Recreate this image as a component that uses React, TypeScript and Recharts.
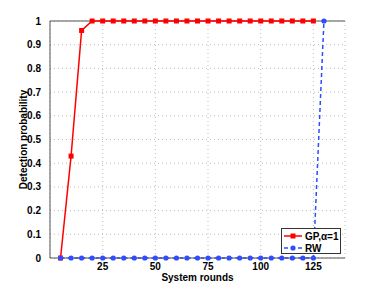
import {
  LineChart,
  Line,
  XAxis,
  YAxis,
  CartesianGrid,
  ReferenceLine,
} from 'recharts';

const rounds = [5, 10, 15, 20, 25, 30, 35, 40, 45, 50, 55, 60, 65, 70, 75, 80, 85, 90, 95, 100, 105, 110, 115, 120, 125, 130];
const gpValues = [0, 0.43, 0.96, 1, 1, 1, 1, 1, 1, 1, 1, 1, 1, 1, 1, 1, 1, 1, 1, 1, 1, 1, 1, 1, 1, null];
const rwValues = [0, 0, 0, 0, 0, 0, 0, 0, 0, 0, 0, 0, 0, 0, 0, 0, 0, 0, 0, 0, 0, 0, 0, 0, 0, 1];
const xTicks = [25, 50, 75, 100, 125];
const yTicks = [0, 0.1, 0.2, 0.3, 0.4, 0.5, 0.6, 0.7, 0.8, 0.9, 1];

const RED = '#ff0000';
const BLUE = '#2f4cff';
const FONT = '"Liberation Sans", Arial, sans-serif';

const data = rounds.map((r, i) => ({ r, gp: gpValues[i], rw: rwValues[i] }));

const labelStyle = { fill: '#000', fontSize: 10, fontWeight: 'bold' as const, fontFamily: FONT };

const SquareDot = (props: any) => {
  const { cx, cy } = props;
  if (cx == null || cy == null) return null;
  return <rect x={cx - 2.5} y={cy - 2.5} width={5} height={5} fill={RED} />;
};

const CircleDot = (props: any) => {
  const { cx, cy } = props;
  if (cx == null || cy == null) return null;
  return <circle cx={cx} cy={cy} r={2.6} fill={BLUE} />;
};

const XLabel = (props: any) => {
  const { x, y, width } = props.viewBox;
  return (
    <text x={x + width / 2} y={y + 23} textAnchor="middle" {...labelStyle}>
      System rounds
    </text>
  );
};

const YLabel = (props: any) => {
  const { y, height } = props.viewBox;
  const cx = 27;
  const cy = y + height / 2;
  return (
    <text x={cx} y={cy} textAnchor="middle" transform={`rotate(-90 ${cx} ${cy})`} {...labelStyle}>
      Detection probability
    </text>
  );
};

// legend drawn as an overlay box in the lower right corner of the axes
const LegendBox = () => (
  <div
    style={{
      position: 'absolute',
      left: 281,
      top: 228,
      width: 60,
      height: 26,
      border: '1px solid #333',
      background: '#fff',
      fontFamily: FONT,
      fontWeight: 'bold',
      fontSize: 10,
      color: '#000',
      paddingTop: 1,
      boxSizing: 'border-box',
    }}
  >
    <div style={{ display: 'flex', alignItems: 'center', height: 12 }}>
      <svg width={23} height={10} style={{ flex: 'none' }}>
        <line x1={2} y1={5} x2={20} y2={5} stroke={RED} strokeWidth={1.5} />
        <rect x={8.5} y={2.5} width={5} height={5} fill={RED} />
      </svg>
      <span style={{ whiteSpace: 'nowrap' }}>GP,α=1</span>
    </div>
    <div style={{ display: 'flex', alignItems: 'center', height: 12 }}>
      <svg width={23} height={10} style={{ flex: 'none' }}>
        <line x1={2} y1={5} x2={20} y2={5} stroke={BLUE} strokeWidth={1.5} strokeDasharray="4 3" />
        <circle cx={11} cy={5} r={2.6} fill={BLUE} />
      </svg>
      <span>RW</span>
    </div>
  </div>
);

export default function App() {
  return (
    <div style={{ position: 'absolute', left: 0, top: 0, width: 382, height: 291, background: '#fff' }}>
      <LineChart width={382} height={291} data={data} margin={{ top: 21, right: 37, left: 0, bottom: 0 }}>
        <CartesianGrid stroke="#bdbdbd" strokeDasharray="1 3" vertical horizontal />
        <XAxis
          dataKey="r"
          type="number"
          domain={[0, 140]}
          ticks={xTicks}
          height={33}
          tick={labelStyle}
          tickLine={false}
          tickSize={4}
          axisLine={{ stroke: '#555' }}
          tickMargin={1}
          label={<XLabel />}
        />
        <YAxis
          type="number"
          domain={[0, 1]}
          ticks={yTicks}
          width={50}
          tick={labelStyle}
          tickLine={false}
          axisLine={{ stroke: '#555' }}
          tickMargin={3}
          interval={0}
          label={<YLabel />}
        />
        <YAxis
          yAxisId="right"
          orientation="right"
          type="number"
          domain={[0, 1]}
          ticks={yTicks}
          width={0}
          mirror
          tick={false}
          tickSize={4}
          tickLine={{ stroke: '#555' }}
          axisLine={{ stroke: '#555' }}
        />
        <ReferenceLine y={1} stroke="#555" />
        <Line
          dataKey="gp"
          stroke={RED}
          strokeWidth={1.5}
          dot={<SquareDot />}
          isAnimationActive={false}
          connectNulls={false}
        />
        <Line
          dataKey="rw"
          stroke={BLUE}
          strokeWidth={1.5}
          strokeDasharray="4 3"
          dot={<CircleDot />}
          isAnimationActive={false}
        />
      </LineChart>
      <LegendBox />
    </div>
  );
}
